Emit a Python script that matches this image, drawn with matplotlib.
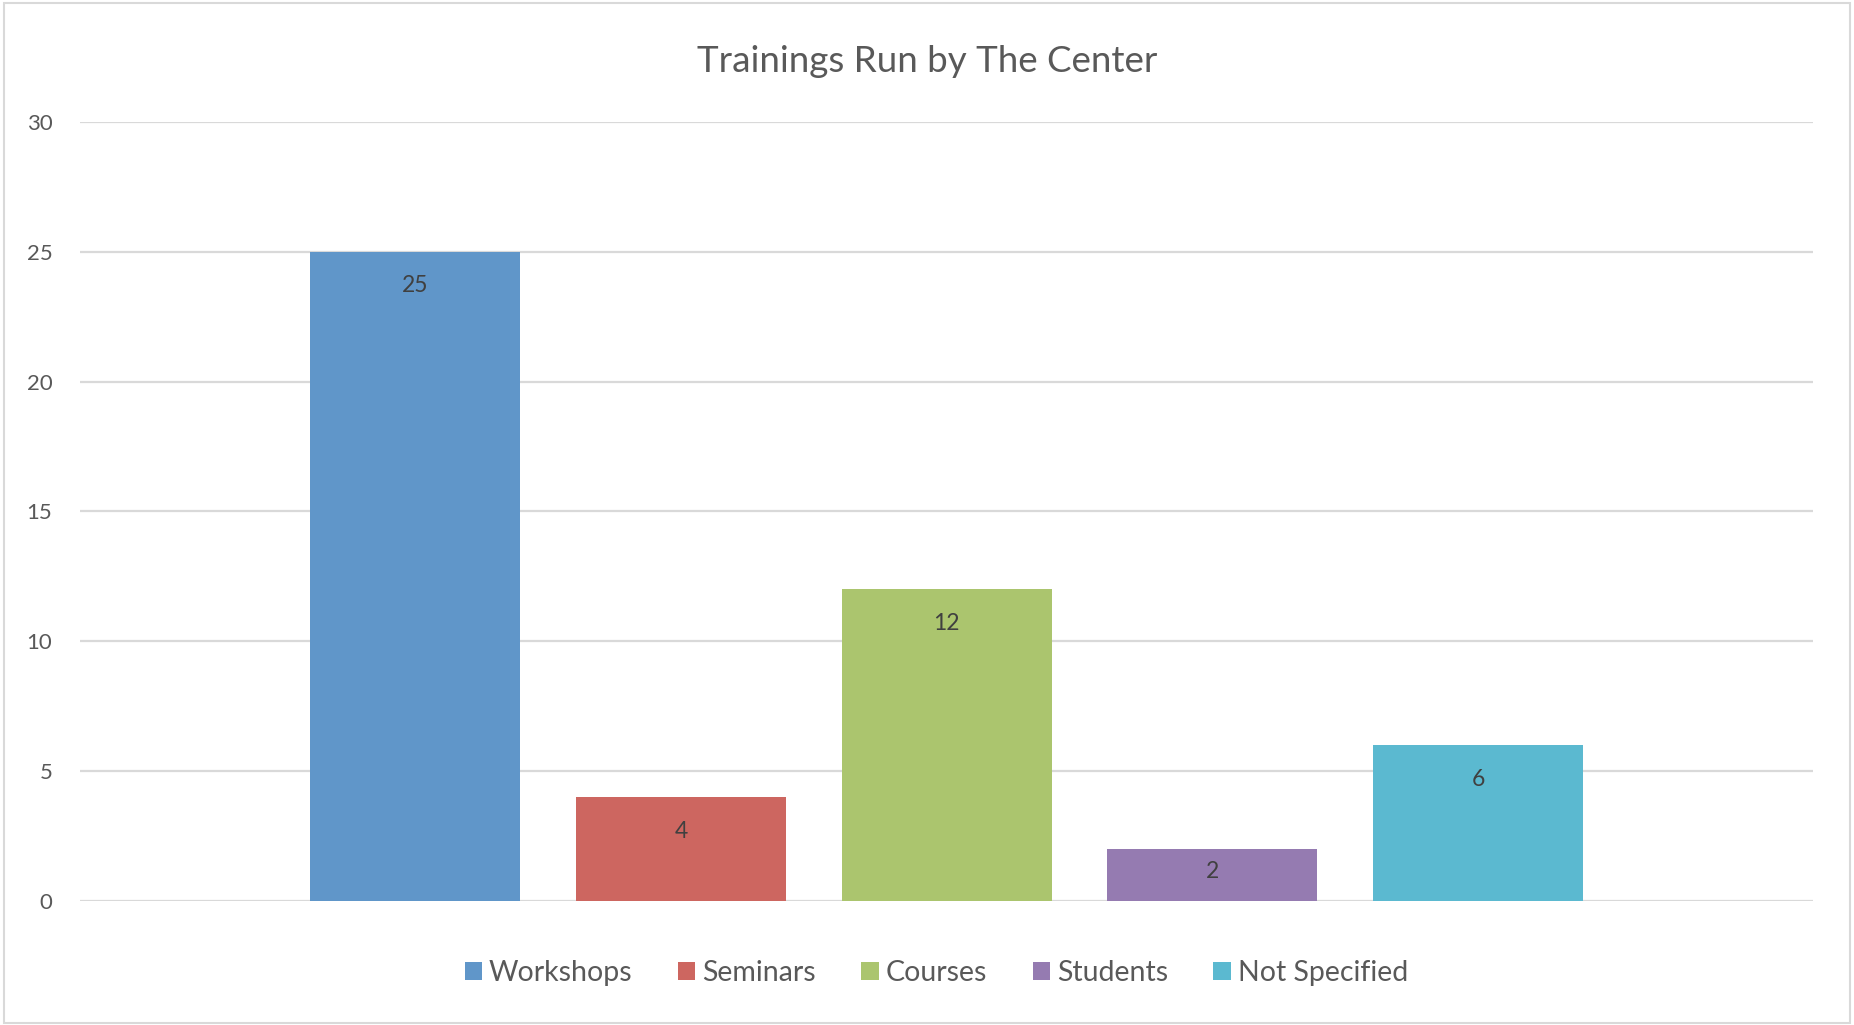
import matplotlib.pyplot as plt
from matplotlib.patches import Rectangle

series = ['Workshops', 'Seminars', 'Courses', 'Students', 'Not Specified']
counts = [25, 4, 12, 2, 6]
colors = ['#6096C9', '#CD6660', '#ABC56E', '#957BB1', '#5BB9D0']
yticks = [0, 5, 10, 15, 20, 25, 30]

plt.rcParams['font.family'] = ['Lato', 'DejaVu Sans']

fig = plt.figure(figsize=(18.54, 10.25), dpi=100)
ax = fig.add_axes([0.0432, 0.121, 0.9348, 0.760])

pos = list(range(len(series)))
bars = ax.bar(pos, counts, width=0.79, color=colors, label=series, zorder=3)
ax.set_xlim(-1.262, len(series) - 1 + 1.262)
ax.set_ylim(0, 30)

# labels at the inside end, pulled up when the bar is too short
for b, v in zip(bars, counts):
    x = b.get_x() + b.get_width() / 2
    top = ax.transData.transform((x, v))[1]
    base = ax.transData.transform((x, 0))[1]
    off = min(34, (top - base) / 2 - 4) * 72 / fig.dpi
    ax.annotate(str(v), (x, v), xytext=(0, -off), textcoords='offset points',
                ha='center', va='center', fontsize=16.5, color='#404040', zorder=4)

ax.set_yticks(yticks)
ax.set_xticks([])
ax.tick_params(axis='y', length=0, pad=20, labelsize=16, labelcolor='#595959')
ax.grid(axis='y', color='#D9D9D9', linewidth=1.6, zorder=0)
for s in ax.spines.values():
    s.set_visible(False)

fig.text(0.5, 0.94, 'Trainings Run by The Center', ha='center', va='center',
         fontsize=26.5, color='#595959')

fig.legend(handles=bars, labels=series, loc='center', bbox_to_anchor=(0.505, 0.051),
           ncol=5, frameon=False, fontsize=20.5, labelcolor='#595959',
           handlelength=0.6, handleheight=0.6, handletextpad=0.25, columnspacing=1.6)

fig.patches.append(Rectangle((0.002, 0.002), 0.996, 0.995, transform=fig.transFigure,
                             fill=False, edgecolor='#D9D9D9', linewidth=1.5))

fig.savefig('out.png')
